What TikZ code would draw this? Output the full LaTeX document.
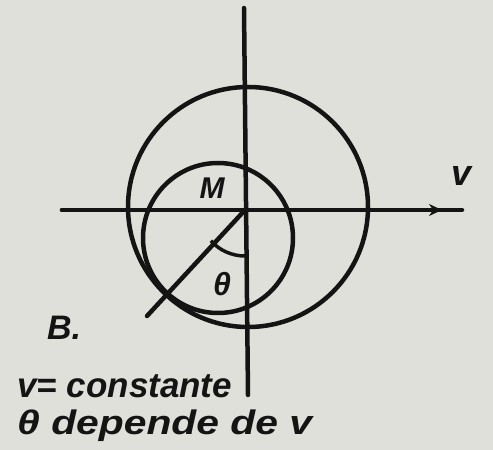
\documentclass[tikz,border=0pt]{standalone}
\usepackage{fontspec}
\setmainfont{Liberation Sans}
\usetikzlibrary{arrows.meta}
\definecolor{paper}{RGB}{224,224,219}
\definecolor{ink}{RGB}{20,20,20}
\tikzset{
  stroke/.style={draw=ink, line width=4.5pt, line cap=round},
  hand/.style={text=ink, font=\bfseries\itshape\fontsize{#1}{#1}\selectfont, inner sep=0pt}
}
\begin{document}
\begin{tikzpicture}[x=1pt,y=1pt]
\fill[paper] (0,0) rectangle (493,450);
\useasboundingbox (0,0) rectangle (493,450);
% axes
\coordinate (O) at (245,240);
\coordinate (vt) at (244,442);
\coordinate (vb) at (248,55);
\coordinate (hl) at (62,240);
\coordinate (ha) at (442,240);
\coordinate (hr) at (462,240);
\draw[stroke] (vt) -- (vb);
\draw[stroke] (hl) -- (hr);
\draw[stroke, -{Stealth[length=13pt,width=12pt]}] (hl) -- (ha);
% circles
\coordinate (C1) at (248,243);
\coordinate (C2) at (218,212);
\draw[stroke] (C1) circle[radius=120pt];
\draw[stroke] (C2) circle[radius=75pt];
% radius line
\coordinate (D) at (147,134);
\draw[stroke] (O) -- (D);
% angle arc
\draw[draw=ink, line width=3.5pt] ([shift={(222:46pt)}]O) arc[start angle=222, end angle=270, radius=46pt];
% labels
\node[hand=30] (M) at (212,262) {M};
\node[hand=32] (th) at (222,166) {θ};
\node[hand=36] (v) at (462,274) {v};
\node[hand=34] (B) at (64,122) {B.};
\node[hand=35, anchor=base west] (l1) at (17,52) {v= constante};
\node[hand=34, anchor=base west, transform shape, xscale=1.2] (l2) at (17,15) {θ depende de v};
\end{tikzpicture}
\end{document}
